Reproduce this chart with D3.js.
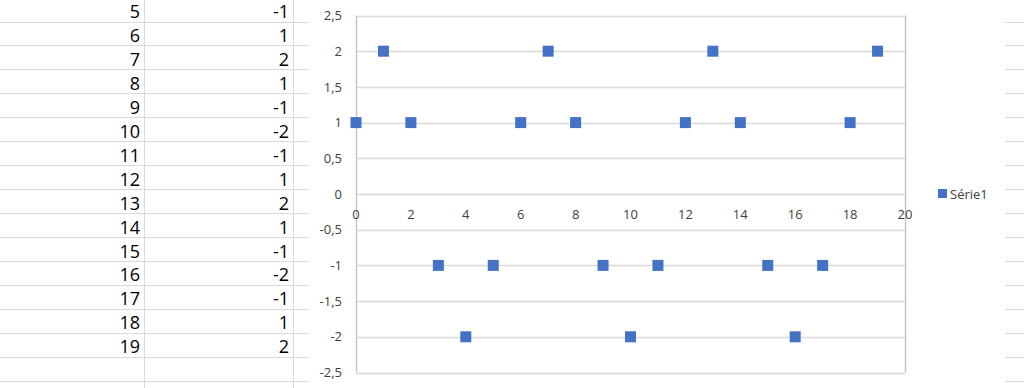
<!DOCTYPE html>
<html>
<head>
<meta charset="utf-8">
<script src="https://cdn.jsdelivr.net/npm/d3@7"></script>
<style>
  html, body { margin: 0; padding: 0; background: #fff; }
  svg { display: block; }
</style>
</head>
<body>
<svg id="sheet" width="1024" height="388"></svg>
<script>
// values
const xValues = [0, 1, 2, 3, 4, 5, 6, 7, 8, 9, 10, 11, 12, 13, 14, 15, 16, 17, 18, 19];
const yValues = [1, 2, 1, -1, -2, -1, 1, 2, 1, -1, -2, -1, 1, 2, 1, -1, -2, -1, 1, 2];
const xTicks = [0, 2, 4, 6, 8, 10, 12, 14, 16, 18, 20];
const yTicks = [-2.5, -2, -1.5, -1, -0.5, 0, 0.5, 1, 1.5, 2, 2.5];
const seriesName = "Série1";
const firstVisibleRow = 5;

const svg = d3.select("#sheet");
const W = 1024, H = 388;
const gridColor = "#d9d9d9";
const blue = "#4472c4";

// spreadsheet behind the chart
const rows = xValues.map((x, i) => ({ x, y: yValues[i] })).filter(d => d.x >= firstVisibleRow);
const rowH = 23.95;
const firstLine = 21.5;

const cells = svg.append("g");
d3.range(0, 17).forEach(i => {
  const y = Math.round(firstLine + i * rowH) + 0.5;
  cells.append("line").attr("x1", 0).attr("x2", W).attr("y1", y).attr("y2", y)
    .attr("stroke", "#dadada").attr("stroke-width", 1);
});
[144.5, 293.5].forEach(x => {
  cells.append("line").attr("x1", x).attr("x2", x).attr("y1", 0).attr("y2", H)
    .attr("stroke", "#dadada");
});
cells.selectAll("text.a").data(rows).enter().append("text")
  .attr("x", 140).attr("y", (d, i) => firstLine + (i - 1) * rowH + rowH - 3.5)
  .attr("text-anchor", "end")
  .style("font", "18px 'Open Sans', sans-serif").attr("fill", "#000")
  .text(d => d.x);
cells.selectAll("text.b").data(rows).enter().append("text")
  .attr("x", 289).attr("y", (d, i) => firstLine + (i - 1) * rowH + rowH - 3.5)
  .attr("text-anchor", "end")
  .style("font", "18px 'Open Sans', sans-serif").attr("fill", "#000")
  .text(d => d.y);

// chart object
svg.append("rect").attr("x", 309).attr("y", 0).attr("width", 696).attr("height", H).attr("fill", "#fff");

const plot = { left: 356, right: 905, top: 15.5, bottom: 372.5 };
const x = d3.scaleLinear().domain([0, 20]).range([plot.left, plot.right]);
const y = d3.scaleLinear().domain([-2.5, 2.5]).range([plot.bottom, plot.top]);
const fmt = v => String(v).replace(".", ",");

const chart = svg.append("g");

// horizontal gridlines
chart.selectAll("line.grid").data(yTicks).enter().append("line")
  .attr("x1", plot.left).attr("x2", plot.right)
  .attr("y1", d => Math.round(y(d)) + 0.5).attr("y2", d => Math.round(y(d)) + 0.5)
  .attr("stroke", gridColor).attr("stroke-width", 1.3);

// vertical axis and right edge
[0, 20].forEach(v => {
  chart.append("line").attr("x1", Math.round(x(v)) + 0.5).attr("x2", Math.round(x(v)) + 0.5)
    .attr("y1", plot.top).attr("y2", plot.bottom)
    .attr("stroke", "#bfbfbf").attr("stroke-width", 1.3);
});

// y tick labels
chart.selectAll("text.yt").data(yTicks).enter().append("text")
  .attr("x", 342).attr("y", d => y(d)).attr("dy", "0.36em")
  .attr("text-anchor", "end")
  .style("font", "13px 'Open Sans', sans-serif").attr("fill", "#404040")
  .text(fmt);

// x tick labels sit just under the zero line
chart.selectAll("text.xt").data(xTicks).enter().append("text")
  .attr("x", d => x(d)).attr("y", y(0) + 25)
  .attr("text-anchor", "middle")
  .style("font", "13px 'Open Sans', sans-serif").attr("fill", "#404040")
  .text(d => d);

// markers
const m = 11;
chart.selectAll("rect.pt").data(xValues.map((v, i) => [v, yValues[i]])).enter().append("rect")
  .attr("x", d => x(d[0]) - m / 2).attr("y", d => y(d[1]) - m / 2)
  .attr("width", m).attr("height", m).attr("fill", blue);

// legend
const lg = chart.append("g").attr("transform", `translate(938, ${y(0)})`);
lg.append("rect").attr("x", 0).attr("y", -5).attr("width", 9).attr("height", 9).attr("fill", blue);
lg.append("text").attr("x", 12).attr("y", 0).attr("dy", "0.36em")
  .style("font", "13px 'Open Sans', sans-serif").attr("fill", "#404040")
  .text(seriesName);
</script>
</body>
</html>
